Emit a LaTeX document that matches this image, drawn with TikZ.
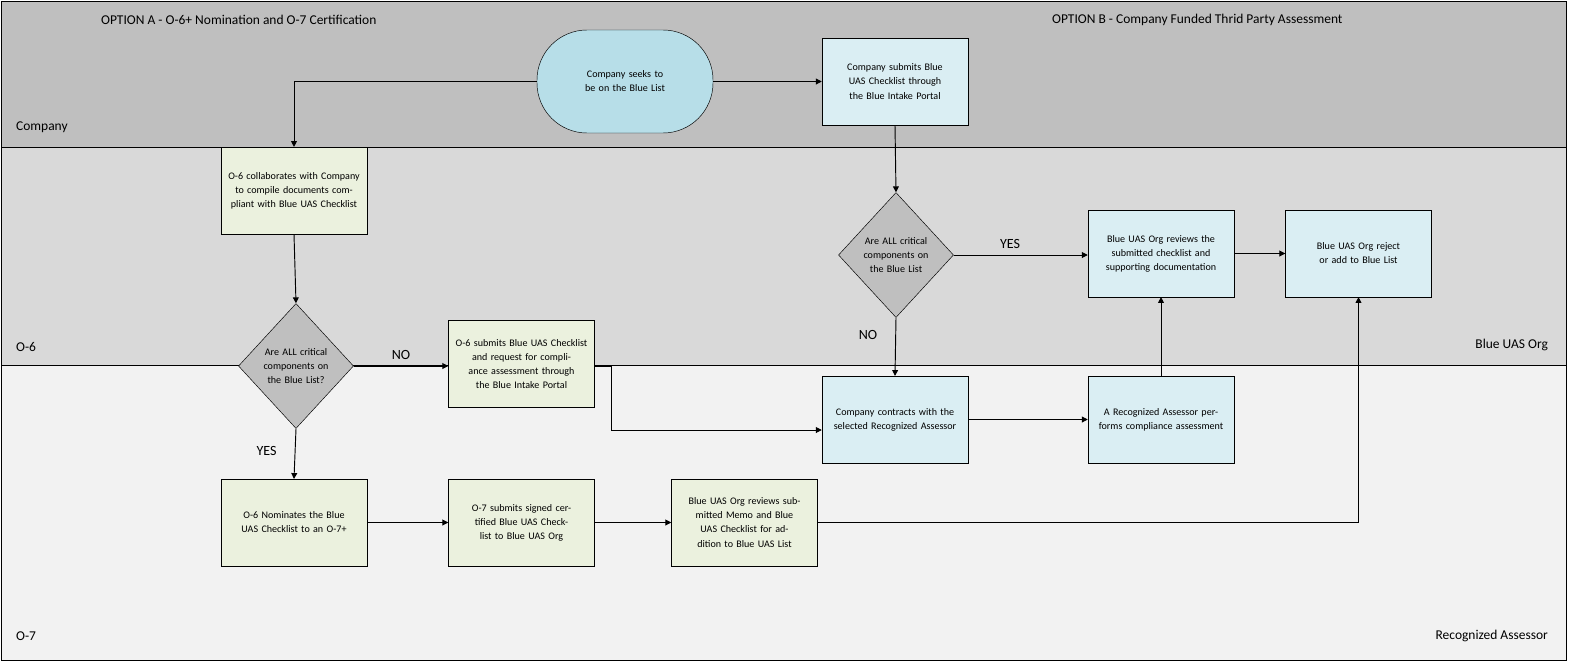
\documentclass[tikz,border=0pt]{standalone}
\usepackage{fontspec}
\setmainfont{Carlito}
\usetikzlibrary{shapes.geometric,positioning,arrows.meta}
\definecolor{laneCo}{HTML}{BFBFBF}
\definecolor{laneOsix}{HTML}{D9D9D9}
\definecolor{laneOseven}{HTML}{F2F2F2}
\definecolor{boxGreen}{HTML}{EBF1DE}
\definecolor{boxBlue}{HTML}{DAEEF3}
\definecolor{termBlue}{HTML}{B7DEE8}
\definecolor{decGray}{HTML}{BFBFBF}
\tikzset{
	flowbox/.style={draw, thin, align=center, inner sep=2pt, font=\fontsize{8.6}{12}\selectfont},
	stepA/.style={flowbox, fill=boxGreen, minimum width=4.38cm, minimum height=2.6cm, text width=4cm},
	stepB/.style={flowbox, fill=boxBlue, minimum width=4.38cm, minimum height=2.6cm, text width=4cm},
	decide/.style={flowbox, diamond, fill=decGray, minimum width=3.45cm, minimum height=3.75cm, text width=2.2cm, inner sep=0pt},
	flow/.style={-{Triangle[length=5pt,width=5pt]}, thick},
	lbl/.style={font=\fontsize{12}{14}\selectfont},
	lane/.style={font=\fontsize{11.5}{14}\selectfont}
}
\begin{document}
\begin{tikzpicture}[x=0.03cm, y=-0.03cm]
	\useasboundingbox (0,0) rectangle (1582,669);
	% swim lanes
	\filldraw[fill=laneCo] (1,1) rectangle (1566,147);
	\filldraw[fill=laneOsix] (1,147) rectangle (1566,365);
	\filldraw[fill=laneOseven] (1,365) rectangle (1566,660);
	\node[lane, anchor=west] at (97,20) {OPTION A - O-6+ Nomination and O-7 Certification};
	\node[lane, anchor=west] at (1048,20) {OPTION B - Company Funded Thrid Party Assessment};
	\node[lane, anchor=west] at (12,127) {Company};
	\node[lane, anchor=west] at (12,347) {O-6};
	\node[lane, anchor=west] at (12,636) {O-7};
	\node[lane, anchor=east] at (1552,345) {Blue UAS Org};
	\node[lane, anchor=east] at (1552,636) {Recognized Assessor};

	% option A
	\node[flowbox, fill=termBlue, rounded corners=1.5cm, minimum width=5.28cm, minimum height=3.09cm, text width=4.4cm] (start) at (625,81.5) {Company seeks to be on the Blue List};
	\node[stepA] (collab) at (294,190.5) {O-6 collaborates with Company to compile documents compliant with Blue UAS Checklist};
	\node[decide] (checkA) at (296,366) {Are ALL critical components on the Blue List?};
	\node[stepA] (submitA) at (521.5,364) {O-6 submits Blue UAS Checklist and request for compliance assessment through the Blue Intake Portal};
	\node[stepA] (nominate) at (294,522.5) {O-6 Nominates the Blue UAS Checklist to an O-7+};
	\node[stepA] (certify) at (521.5,522.5) {O-7 submits signed certified Blue UAS Checklist to Blue UAS Org};
	\node[stepA] (memo) at (744.5,522.5) {Blue UAS Org reviews submitted Memo and Blue UAS Checklist for addition to Blue UAS List};

	% option B
	\node[stepB] (submitB) at (895,81.5) {Company submits Blue UAS Checklist through the Blue Intake Portal};
	\node[decide] (checkB) at (896,255) {Are ALL critical components on the Blue List};
	\node[stepB] (review) at (1161,253.5) {Blue UAS Org reviews the submitted checklist and supporting documentation};
	\node[stepB] (decision) at (1358.5,253.5) {Blue UAS Org reject or add to Blue List};
	\node[stepB] (contract) at (895,419.5) {Company contracts with the selected Recognized Assessor};
	\node[stepB] (assess) at (1161,419.5) {A Recognized Assessor performs compliance assessment};

	% connectors
	\draw[flow] (start.west) -| (collab.north);
	\draw[flow] (start.east) -- (submitB.west);
	\draw[flow] (collab.south) -- (checkA.north);
	\draw[flow] (checkA.east) -- node[lbl, above=2pt] {NO} (checkA.east -| submitA.west);
	\draw[flow] (checkA.south) -- node[lbl, pos=0.45, left=12pt] {YES} (nominate.north);
	\coordinate (bendA) at (611,366);
	\draw[flow] (submitA.east |- bendA) -- (bendA) |- (contract.west |- 0,430);
	\draw[flow] (nominate.east) -- (certify.west);
	\draw[flow] (certify.east) -- (memo.west);
	\draw[flow] (memo.east) -| (decision.south);
	\draw[flow] (submitB.south) -- (checkB.north);
	\draw[flow] (checkB.east) -- node[lbl, above=2pt, pos=0.42] {YES} (checkB.east -| review.west);
	\draw[flow] (checkB.south) -- node[lbl, pos=0.3, left=12pt] {NO} (contract.north);
	\draw[flow] (review.east) -- (decision.west);
	\draw[flow] (contract.east) -- (assess.west);
	\draw[flow] (assess.north) -- (review.south);
\end{tikzpicture}
\end{document}
